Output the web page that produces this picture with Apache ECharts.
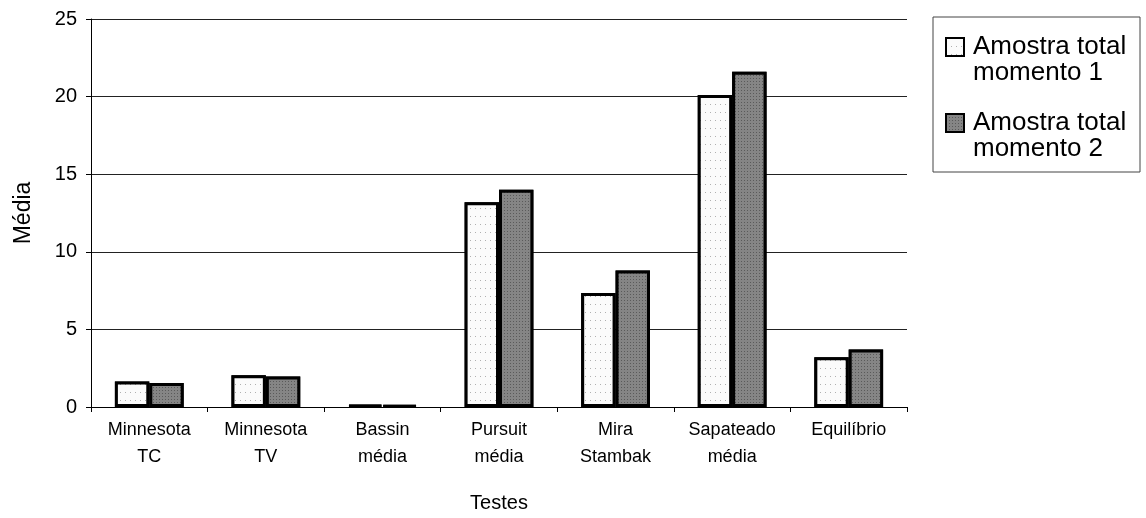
<!DOCTYPE html>
<html>
<head>
<meta charset="utf-8">
<script src="https://cdn.jsdelivr.net/npm/echarts@6/dist/echarts.min.js"></script>
<style>
  html, body {margin: 0; padding: 0; background: #fff;}
  #chart {width: 1146px; height: 518px;}
</style>
</head>
<body>
<div id="chart"></div>
<script>
// categories on the x axis
const categories = [
  'Minnesota\nTC', 'Minnesota\nTV', 'Bassin\nmédia', 'Pursuit\nmédia',
  'Mira\nStambak', 'Sapateado\nmédia', 'Equilíbrio'
];
const seriesNames = ['Amostra total\nmomento 1', 'Amostra total\nmomento 2'];
// mean values
const momento1 = [1.65, 2.05, 0.12, 13.2, 7.35, 20.1, 3.2];
const momento2 = [1.55, 1.97, 0.1, 14.0, 8.8, 21.6, 3.7];
const yTicks = [0, 5, 10, 15, 20, 25];

const sans = '"Liberation Sans", Arial, sans-serif';

const chart = echarts.init(document.getElementById('chart'));

const option = {
  animation: false,
  aria: {enabled: true, decal: {show: true}},
  grid: {left: 91, right: 239, top: 19, bottom: 111},
  legend: {
    orient: 'vertical',
    left: 945,
    top: 8,
    padding: 0,
    itemWidth: 18,
    itemHeight: 18,
    itemGap: -2,
    icon: 'rect',
    // a leading blank line puts the first text line level with the icon
    formatter: name => '\n' + name,
    textStyle: {
      fontFamily: sans,
      fontSize: 26,
      color: '#000',
      lineHeight: 26,
      padding: [0, 0, 0, 4]
    },
    data: seriesNames
  },
  graphic: [{
    type: 'rect',
    shape: {x: 933, y: 17, width: 207, height: 155},
    style: {fill: 'none', stroke: '#444', lineWidth: 1}
  }],
  xAxis: {
    type: 'category',
    data: categories,
    name: 'Testes',
    nameLocation: 'middle',
    nameGap: 86,
    nameTextStyle: {fontFamily: sans, fontSize: 20, color: '#000'},
    axisLine: {lineStyle: {color: '#000', width: 1}},
    axisTick: {show: true, alignWithLabel: false, length: 5, lineStyle: {color: '#000'}},
    axisLabel: {
      fontFamily: sans,
      fontSize: 18,
      color: '#000',
      lineHeight: 27,
      margin: 10,
      interval: 0
    }
  },
  yAxis: {
    type: 'value',
    min: yTicks[0],
    max: yTicks[yTicks.length - 1],
    interval: 5,
    name: 'Média',
    nameLocation: 'middle',
    nameGap: 56,
    nameTextStyle: {fontFamily: sans, fontSize: 23, color: '#000'},
    axisLine: {show: true, lineStyle: {color: '#000', width: 1}},
    axisTick: {show: true, length: 5, lineStyle: {color: '#000'}},
    axisLabel: {fontFamily: sans, fontSize: 20, color: '#000', margin: 14},
    splitLine: {lineStyle: {color: '#222', width: 1}}
  },
  series: [
    {
      name: seriesNames[0],
      type: 'bar',
      data: momento1,
      barGap: '0%',
      barCategoryGap: '41%',
      itemStyle: {
        color: '#fbfbfb',
        borderColor: '#000',
        borderWidth: 3,
        decal: {
          symbol: 'rect',
          symbolSize: 1,
          color: '#b0b0b0',
          backgroundColor: '#fbfbfb',
          dashArrayX: [1, 4],
          dashArrayY: [1, 7],
          rotation: 0
        }
      }
    },
    {
      name: seriesNames[1],
      type: 'bar',
      data: momento2,
      itemStyle: {
        color: '#7a7a7a',
        borderColor: '#000',
        borderWidth: 3,
        decal: {
          symbol: 'rect',
          symbolSize: 1,
          color: '#5a5a5a',
          backgroundColor: '#858585',
          dashArrayX: [1, 2],
          dashArrayY: [1, 2],
          rotation: 0
        }
      }
    }
  ]
};

chart.setOption(option);
</script>
</body>
</html>
